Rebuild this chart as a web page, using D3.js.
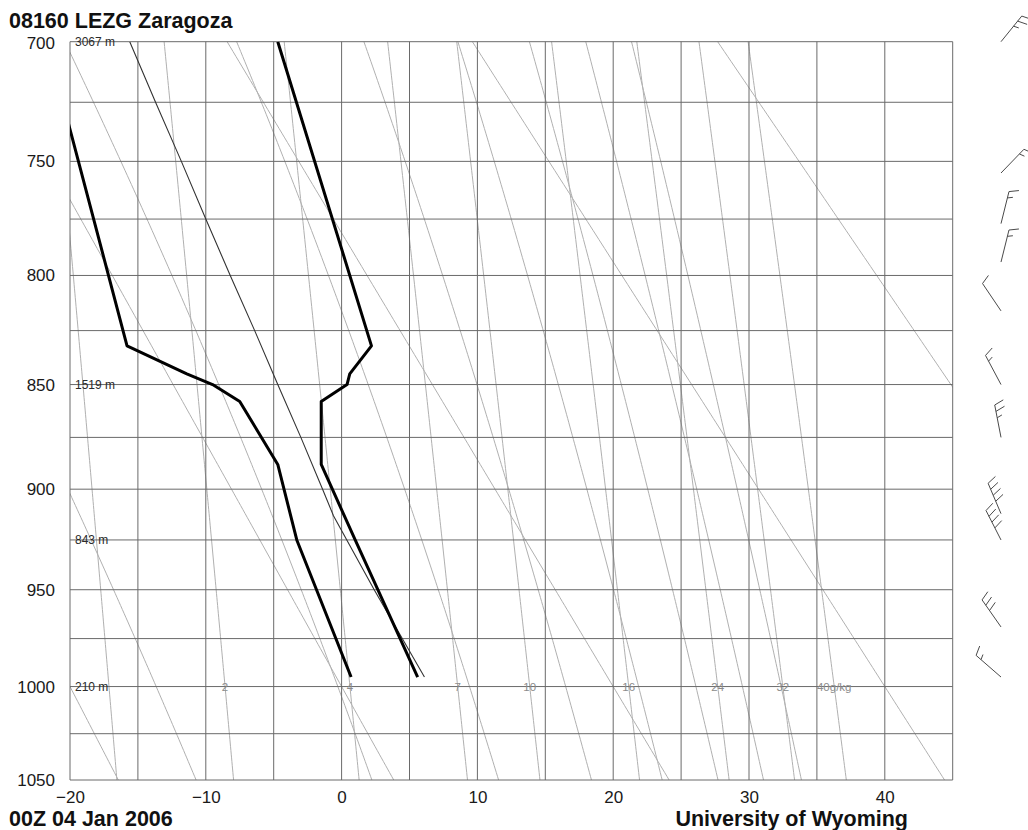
<!DOCTYPE html>
<html>
<head>
<meta charset="utf-8">
<script src="https://cdn.jsdelivr.net/npm/d3@7"></script>
<style>
  html, body { margin: 0; padding: 0; background: #fff; }
  svg { display: block; }
  text { font-family: "Liberation Sans", Arial, Helvetica, sans-serif; }
</style>
</head>
<body>
<svg id="chart" width="1028" height="830"></svg>
<script>
// ---- Diagram furniture ----
const pressureGrid = [700, 725, 750, 775, 800, 825, 850, 875, 900, 925, 950, 975, 1000, 1025, 1050];
const pressureTicks = [700, 750, 800, 850, 900, 950, 1000, 1050];
const tempGrid = [-20, -15, -10, -5, 0, 5, 10, 15, 20, 25, 30, 35, 40, 45];
const tempTicks = [-20, -10, 0, 10, 20, 30, 40];
const dryAdiabatThetaC = [-20, 0, 20, 40, 60];
const moistAdiabatThetaEC = [-10, 10, 30, 50, 70, 90, 110, 130];
const mixingRatios = [1, 2, 4, 7, 10, 16, 24, 32, 40];
const labelledMixingRatios = [2, 4, 7, 10, 16, 24, 32, 40];
const mixingRatioLabels = ["2", "4", "7", "10", "16", "24", "32", "40g/kg"];
const heightPressure = [700, 850, 925, 1000];
const heightLabels = ["3067 m", "1519 m", "843 m", "210 m"];

// ---- Sounding: 08160 LEZG Zaragoza, 00Z 04 Jan 2006 ----
const soundingPressure = [995, 925, 888, 858, 850, 845, 832, 700];
const soundingTemp     = [5.6, 1.0, -1.5, -1.5, 0.4, 0.6, 2.2, -4.7];
const soundingDwpt     = [0.7, -3.3, -4.7, -7.5, -9.5, -11.4, -15.8, -21.7];

// Lifted surface parcel
const parcelPressure = [995, 950, 913, 900, 875, 850, 825, 800, 775, 750, 725, 700];
const parcelTemp     = [6.1, 2.4, -0.6, -1.4, -3.0, -4.7, -6.4, -8.2, -10.0, -11.8, -13.7, -15.6];

// Winds (direction in degrees, speed in knots)
const windPressure = [700, 755, 777, 794, 816, 850, 875, 912, 925, 969, 995];
const windDir      = [39, 44, 14, 14, 326, 332, 349, 337, 333, 325, 311];
const windSpeed    = [25, 15, 15, 15, 10, 15, 25, 40, 40, 30, 15];

(function () {
  const svg = d3.select("#chart");
  const plotLeft = 70, plotRight = 952.7, plotTop = 41.7, plotBottom = 780;

  const x = d3.scaleLinear().domain([-20, 45]).range([plotLeft, plotRight]);
  // Stuve diagram: vertical coordinate is p^kappa
  const y = d3.scalePow().exponent(0.286).domain([700, 1050]).range([plotTop, plotBottom]);

  // ---- Thermodynamics for the background lines ----
  function satVap(tc) { return 6.112 * Math.exp(17.67 * tc / (tc + 243.5)); }
  function dewFromVap(e) { const l = Math.log(e / 6.112); return 243.5 * l / (17.67 - l); }
  function thetaESat(tc, p) {
    const T = tc + 273.15;
    const e = satVap(tc);
    const r = 622 * e / (p - e);
    const th = T * Math.pow(1000 / p, 0.2854 * (1 - 0.00028 * r));
    return th * Math.exp((3.376 / T - 0.00254) * r * (1 + 0.00081 * r));
  }
  function moistTemp(thetaEK, p) {
    let lo = -90, hi = 60;
    for (let i = 0; i < 60; i++) {
      const mid = (lo + hi) / 2;
      if (thetaESat(mid, p) > thetaEK) hi = mid; else lo = mid;
    }
    return (lo + hi) / 2;
  }
  const pSamples = d3.range(690, 1061, 2);

  svg.append("defs").append("clipPath").attr("id", "plotClip")
    .append("rect").attr("x", plotLeft).attr("y", plotTop)
    .attr("width", plotRight - plotLeft).attr("height", plotBottom - plotTop);

  const line = d3.line().x(d => x(d[0])).y(d => y(d[1]));

  const bg = svg.append("g").attr("clip-path", "url(#plotClip)")
    .attr("fill", "none").attr("stroke", "#b0b0b0").attr("stroke-width", 1);

  // dry adiabats
  bg.selectAll(".dry").data(dryAdiabatThetaC).join("path").attr("class", "dry")
    .attr("d", th => line(pSamples.map(p => [(th + 273.15) * Math.pow(p / 1000, 0.286) - 273.15, p])));

  // saturated adiabats
  bg.selectAll(".moist").data(moistAdiabatThetaEC).join("path").attr("class", "moist")
    .attr("d", th => line(pSamples.map(p => [moistTemp(th + 273.15, p), p])));

  // mixing ratio lines
  bg.selectAll(".mix").data(mixingRatios).join("path").attr("class", "mix")
    .attr("d", w => line(pSamples.map(p => [dewFromVap(w * p / (622 + w)), p])));

  // ---- Grid ----
  const grid = svg.append("g").attr("stroke", "#6a6a6a").attr("stroke-width", 1);
  grid.selectAll(".hg").data(pressureGrid).join("line")
    .attr("x1", plotLeft).attr("x2", plotRight)
    .attr("y1", d => y(d)).attr("y2", d => y(d));
  grid.selectAll(".vg").data(tempGrid).join("line")
    .attr("y1", plotTop).attr("y2", plotBottom)
    .attr("x1", d => x(d)).attr("x2", d => x(d));

  // ---- Axes labels ----
  const yAxis = svg.append("g").attr("transform", `translate(${plotLeft},0)`)
    .call(d3.axisLeft(y).tickValues(pressureTicks).tickSize(0).tickPadding(15).tickFormat(d3.format("d")));
  yAxis.select(".domain").remove();
  yAxis.selectAll("text").attr("font-size", 17).attr("fill", "#1a1a1a")
    .style("font-family", "'Liberation Sans', Arial, sans-serif");
  // keep the top label clear of the station title
  yAxis.selectAll(".tick").filter(d => d === 700).select("text").attr("dy", "0.4em");

  const xAxis = svg.append("g").attr("transform", `translate(0,${plotBottom})`)
    .call(d3.axisBottom(x).tickValues(tempTicks).tickSize(0).tickPadding(11));
  xAxis.select(".domain").remove();
  xAxis.selectAll("text").attr("font-size", 17).attr("fill", "#1a1a1a")
    .style("font-family", "'Liberation Sans', Arial, sans-serif");

  // mixing ratio labels along 1000 hPa
  svg.append("g").selectAll("text").data(labelledMixingRatios).join("text")
    .attr("x", w => x(dewFromVap(w * 1000 / (622 + w))))
    .attr("y", y(1000)).attr("dy", "0.35em")
    .attr("text-anchor", "middle").attr("font-size", 11.5).attr("fill", "#8c8c8c")
    .text((w, i) => mixingRatioLabels[i]);

  // height labels
  svg.append("g").selectAll("text").data(heightPressure).join("text")
    .attr("x", plotLeft + 5).attr("y", p => y(p)).attr("dy", "0.35em")
    .attr("font-size", 12).attr("fill", "#2a2a2a")
    .text((p, i) => heightLabels[i]);

  // ---- Profiles ----
  const prof = svg.append("g").attr("clip-path", "url(#plotClip)").attr("fill", "none");
  prof.append("path")
    .attr("d", line(parcelPressure.map((p, i) => [parcelTemp[i], p])))
    .attr("stroke", "#333").attr("stroke-width", 1.1);
  prof.append("path")
    .attr("d", line(soundingPressure.map((p, i) => [soundingDwpt[i], p])))
    .attr("stroke", "#000").attr("stroke-width", 3).attr("stroke-linejoin", "round");
  prof.append("path")
    .attr("d", line(soundingPressure.map((p, i) => [soundingTemp[i], p])))
    .attr("stroke", "#000").attr("stroke-width", 3).attr("stroke-linejoin", "round");

  // ---- Wind barbs ----
  const barbX = 1001;
  const barbs = svg.append("g").attr("fill", "none").attr("stroke", "#4a4a4a").attr("stroke-width", 1);
  windPressure.forEach((p, i) => {
    const x0 = barbX, y0 = y(p);
    const L = 33, gap = 6.5, full = 10, half = 5.5;
    const a = windDir[i] * Math.PI / 180;
    const ux = Math.sin(a), uy = -Math.cos(a);
    const b = (windDir[i] + 70) * Math.PI / 180;
    const fx = Math.sin(b), fy = -Math.cos(b);
    const tx = x0 + L * ux, ty = y0 + L * uy;
    let d = `M${x0},${y0}L${tx},${ty}`;
    let s = Math.round(windSpeed[i] / 5) * 5;
    let pos = 0;
    while (s >= 10) {
      const sx = tx - pos * ux, sy = ty - pos * uy;
      d += `M${sx},${sy}l${full * fx},${full * fy}`;
      pos += gap; s -= 10;
    }
    if (s >= 5) {
      if (pos === 0) pos = gap;
      const sx = tx - pos * ux, sy = ty - pos * uy;
      d += `M${sx},${sy}l${half * fx},${half * fy}`;
    }
    barbs.append("path").attr("d", d);
  });

  // ---- Titles ----
  svg.append("text").attr("x", 9).attr("y", 28)
    .attr("font-size", 21.5).attr("font-weight", "bold").attr("fill", "#111")
    .text("08160 LEZG Zaragoza");
  svg.append("text").attr("x", 9).attr("y", 826)
    .attr("font-size", 21.5).attr("font-weight", "bold").attr("fill", "#111")
    .text("00Z 04 Jan 2006");
  svg.append("text").attr("x", 908).attr("y", 826).attr("text-anchor", "end")
    .attr("font-size", 21.5).attr("font-weight", "bold").attr("fill", "#111")
    .text("University of Wyoming");
})();
</script>
</body>
</html>
